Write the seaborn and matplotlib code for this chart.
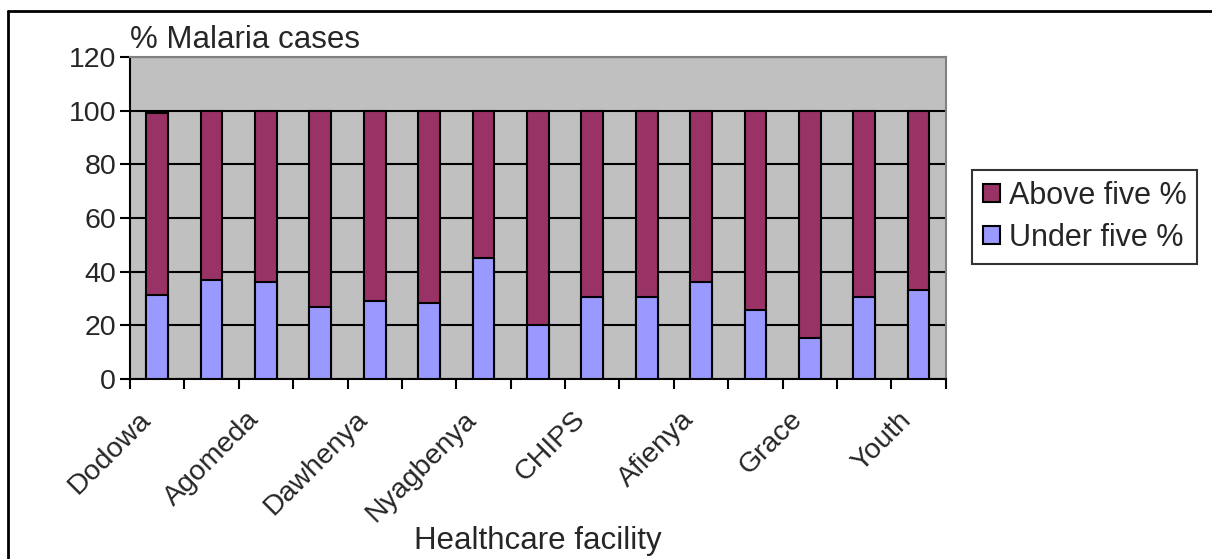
import numpy as np
import pandas as pd
import matplotlib
matplotlib.use("Agg")
import matplotlib.pyplot as plt
import matplotlib.transforms as mtransforms
import seaborn as sns
from matplotlib.lines import Line2D
from matplotlib.patches import Rectangle

# Datos (15 centros; solo se rotulan los impares)
facilities = ["Dodowa", "Facility 2", "Agomeda", "Facility 4", "Dawhenya",
              "Facility 6", "Nyagbenya", "Facility 8", "CHIPS", "Facility 10",
              "Afienya", "Facility 12", "Grace", "Facility 14", "Youth"]
shown = [True, False] * 7 + [True]
under_five = [31.4, 37.0, 36.2, 26.7, 28.9, 28.2, 45.1, 20.0,
              30.5, 30.5, 36.2, 25.7, 15.2, 30.5, 33.0]
above_five = [67.7, 63.0, 63.8, 73.3, 71.1, 71.8, 54.9, 80.0,
              69.5, 69.5, 63.8, 74.3, 84.8, 69.5, 67.0]

MAROON = "#993366"
LILAC = "#9999FF"
FS_TICK = 20.5
FS_TEXT = 22.5

sns.set_style("white")
plt.rcParams["font.family"] = ["Liberation Sans", "DejaVu Sans"]

df = pd.DataFrame({"facility": facilities, "under": under_five,
                   "total": np.array(under_five) + np.array(above_five)})

fig = plt.figure(figsize=(12.12, 5.59), dpi=100)
ax = fig.add_axes([0.1073, 0.322, 0.673, 0.576])
ax.set_facecolor("#C0C0C0")

# apilado: total (granate) detras, menores de cinco (lila) delante
sns.barplot(data=df, x="facility", y="total", color=MAROON, saturation=1,
            width=0.4, edgecolor="black", linewidth=1.5, ax=ax, zorder=3)
sns.barplot(data=df, x="facility", y="under", color=LILAC, saturation=1,
            width=0.4, edgecolor="black", linewidth=1.5, ax=ax, zorder=4)

ax.set_ylim(0, 120)
ax.set_xlim(-0.5, len(facilities) - 0.5)
ax.set_yticks(range(0, 121, 20))
ax.yaxis.grid(True, color="black", linewidth=1.5, zorder=1)
ax.set_axisbelow(True)
for sp in ["top", "right"]:
    ax.spines[sp].set_color("#808080")
    ax.spines[sp].set_linewidth(1.5)
for sp in ["left", "bottom"]:
    ax.spines[sp].set_color("black")
    ax.spines[sp].set_linewidth(1.5)

# ticks de categoria en los limites, etiquetas alternas
ax.set_xticks(np.arange(-0.5, len(facilities)), minor=False)
ax.set_xticklabels([])
ax.set_xticks(np.arange(len(facilities)), minor=True)
ax.set_xticklabels([f if s else "" for f, s in zip(facilities, shown)],
                   minor=True, rotation=45, ha="right", rotation_mode="anchor",
                   fontsize=FS_TICK)
ax.tick_params(axis="x", which="major", direction="out", length=7, width=1.5,
               color="black", bottom=True)
ax.tick_params(axis="x", which="minor", length=0, pad=14)
ax.tick_params(axis="y", direction="out", length=7, width=1.5, color="black",
               left=True, labelsize=FS_TICK, pad=3)
shift = mtransforms.ScaledTranslation(-20 / 100, -8 / 100, fig.dpi_scale_trans)
for lbl in ax.get_xticklabels(minor=True):
    lbl.set_transform(lbl.get_transform() + shift)

ax.set_xlabel("Healthcare facility", fontsize=FS_TEXT)
ax.xaxis.set_label_coords(0.5, -0.455)
ax.set_ylabel("")
ax.text(0.0, 1.005, "% Malaria cases", transform=ax.transAxes, fontsize=FS_TEXT,
        ha="left", va="bottom")

handles = [Rectangle((0, 0), 1, 1, facecolor=MAROON, edgecolor="black", linewidth=1.5),
           Rectangle((0, 0), 1, 1, facecolor=LILAC, edgecolor="black", linewidth=1.5)]
leg = fig.legend(handles, ["Above five %", "Under five %"], loc="upper left",
                 bbox_to_anchor=(0.802, 0.696), fontsize=22, frameon=True,
                 fancybox=False, edgecolor="black", handlelength=0.55,
                 handleheight=0.55, handletextpad=0.3, borderpad=0.35,
                 labelspacing=0.4, borderaxespad=0)
leg.get_frame().set_linewidth(1.5)

# marco exterior (solo lados superior e izquierdo visibles)
fig.add_artist(Line2D([8 / 1212, 1], [1 - 11 / 559] * 2, transform=fig.transFigure,
                      color="black", linewidth=2))
fig.add_artist(Line2D([8 / 1212] * 2, [0, 1 - 11 / 559], transform=fig.transFigure,
                      color="black", linewidth=2))

fig.savefig("out.png", dpi=100)
